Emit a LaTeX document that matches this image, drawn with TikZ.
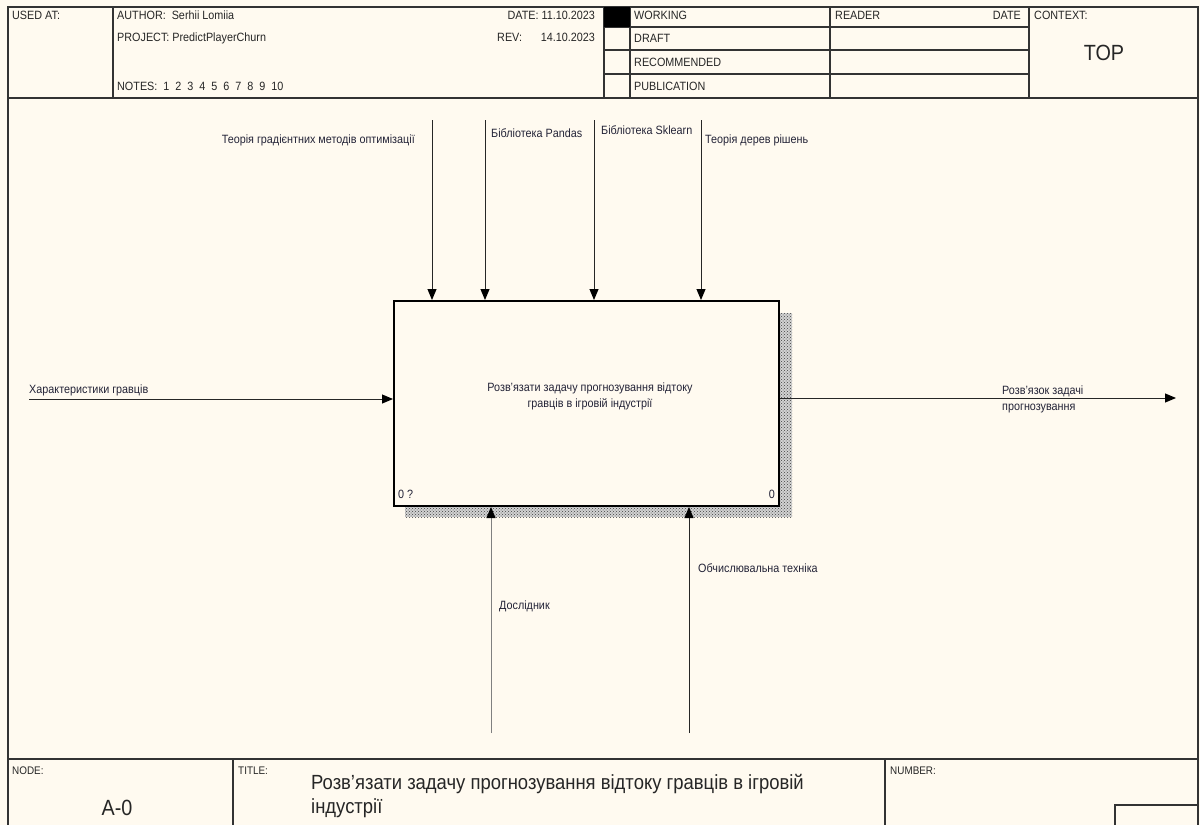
\documentclass[tikz,border=0pt]{standalone}
\usepackage{fontspec}
\setmainfont[FakeStretch=0.9]{Liberation Sans}
\usetikzlibrary{arrows.meta,patterns,positioning}

\definecolor{paper}{RGB}{255,250,240}
\definecolor{ink}{RGB}{35,35,55}

\tikzset{
  formline/.style={draw=black!80, line width=1.2pt},
  cell/.style={font=\fontsize{12}{14}\selectfont, inner sep=0pt, anchor=base west, text=black!85},
  tiny/.style={font=\fontsize{11}{13}\selectfont, inner sep=0pt, anchor=base west, text=black!85},
  lbl/.style={font=\fontsize{12}{16}\selectfont, inner sep=0pt, anchor=base west, text=ink},
  arc/.style={draw=black!85, line width=1pt, -{Triangle[length=11pt,width=9pt,color=black]}},
  fn/.style={draw=black, line width=2pt, fill=paper, minimum width=385pt, minimum height=205pt, inner sep=0pt}
}

\begin{document}
\begin{tikzpicture}[x=1pt, y=-1pt]
\useasboundingbox (0,0) rectangle (1200,825);
\fill[paper] (0,0) rectangle (1200,825);

% form frame
\draw[formline] (8,825) -- (8,7) -- (1198,7) -- (1198,825);
\draw[formline] (8,98) -- (1198,98);
\draw[formline] (8,759) -- (1198,759);
\foreach \xx in {113,604,630,830,1029}
  \draw[formline] (\xx,7) -- (\xx,98);
\foreach \yy in {27,50,74}
  \draw[formline] (604,\yy) -- (1029,\yy);
\fill[black] (604,7) rectangle (630,27);
\foreach \xx in {233,885}
  \draw[formline] (\xx,759) -- (\xx,825);
\draw[formline] (1115,825) -- (1115,805) -- (1198,805);

% header texts
\node[cell] (usedat) at (12,19) {USED AT:};
\node[cell] (author) at (117,19) {AUTHOR:\ \ Serhii Lomiia};
\node[cell] (project) at (117,41) {PROJECT:\ PredictPlayerChurn};
\node[cell] (notes) at (117,90) {NOTES:\ \ 1\ \ 2\ \ 3\ \ 4\ \ 5\ \ 6\ \ 7\ \ 8\ \ 9\ \ 10};
\node[cell, anchor=base east] (date) at (595,19) {DATE:\ 11.10.2023};
\node[cell] (rev) at (497,41) {REV:};
\node[cell, anchor=base east] (revdate) at (595,41) {14.10.2023};
\node[cell] (working) at (634,19) {WORKING};
\node[cell] (draft) at (634,42) {DRAFT};
\node[cell] (recommended) at (634,66) {RECOMMENDED};
\node[cell] (publication) at (634,90) {PUBLICATION};
\node[cell] (reader) at (835,19) {READER};
\node[cell, anchor=base east] (readerdate) at (1021,19) {DATE};
\node[cell] (context) at (1034,19) {CONTEXT:};
\node[cell, anchor=base, font=\fontsize{22}{26}\selectfont] (top) at (1104,60) {TOP};

% footer texts
\node[tiny] (nodelbl) at (12,774) {NODE:};
\node[tiny] (titlelbl) at (238,774) {TITLE:};
\node[tiny] (numberlbl) at (890,774) {NUMBER:};
\node[cell, anchor=base, font=\fontsize{22}{26}\selectfont] (nodeno) at (117,815) {A-0};
\node[cell, font=\fontsize{20.5}{24}\selectfont, align=left] (title) at (311,813)
  {Розв'язати задачу прогнозування відтоку гравців в ігровій\\індустрії};

% function box with shadow
\fill[gray!35] (405,313) rectangle (792,517);
\fill[pattern=crosshatch dots, pattern color=black!75] (405,313) rectangle (792,517);
\node[fn] (fn) at (586.5,403.5) {};
\node[lbl, anchor=center, align=center] (fntext) at (590,396)
  {Розв'язати задачу прогнозування відтоку\\гравців в ігровій індустрії};
\node[lbl] (fnnum) at (398,498) {0 ?};
\node[lbl, anchor=base east] (fncost) at (775,498) {0};

% controls
\coordinate (c1) at (432,120);
\coordinate (c2) at (485,120);
\coordinate (c3) at (594,120);
\coordinate (c4) at (701,120);
\foreach \cc in {c1,c2,c3,c4}
  \draw[arc] (\cc) -- (\cc |- fn.north);
\node[lbl, anchor=base east] (gradient) at (415,143) {Теорія градієнтних методів оптимізації};
\node[lbl] (pandas) at (491,137) {Бібліотека Pandas};
\node[lbl] (sklearn) at (601,134) {Бібліотека Sklearn};
\node[lbl] (trees) at (705,143) {Теорія дерев рішень};

% input
\coordinate (in1) at (29,399);
\draw[arc] (in1) -- (in1 -| fn.west);
\node[lbl] (players) at (29,393) {Характеристики гравців};

% output
\coordinate (out1) at (1176,398);
\draw[arc] (out1 -| fn.east) -- (out1);
\node[lbl, align=left] (solution) at (1002,410) {Розв'язок задачі\\прогнозування};

% mechanisms
\coordinate (m1) at (491,733);
\coordinate (m2) at (689,733);
\draw[arc, draw=gray] (m1) -- (m1 |- fn.south);
\draw[arc] (m2) -- (m2 |- fn.south);
\node[lbl] (researcher) at (499,609) {Дослідник};
\node[lbl] (hardware) at (698,572) {Обчислювальна техніка};
\end{tikzpicture}
\end{document}
